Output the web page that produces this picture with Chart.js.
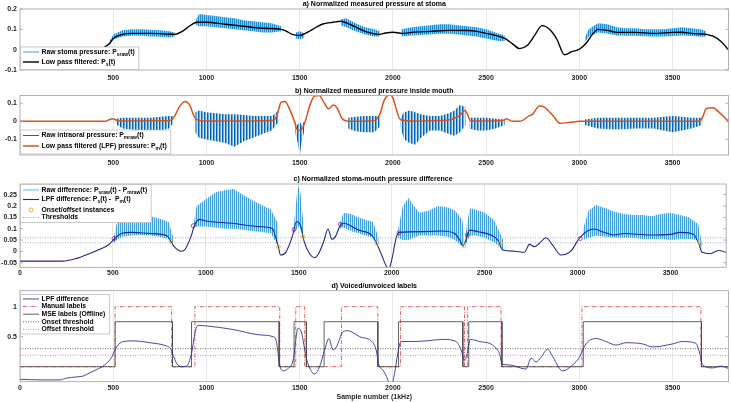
<!DOCTYPE html>
<html>
<head>
<meta charset="utf-8">
<script src="https://cdn.jsdelivr.net/npm/chart.js@4.4.1/dist/chart.umd.min.js"></script>
<style>
  body { margin: 0; background: #fff; }
  #wrap { position: relative; width: 731px; height: 402px; }
  canvas { position: absolute; left: 0; }
</style>
</head>
<body>
<div id="wrap">
  <canvas id="chartA" width="731" height="88" style="top:0px"></canvas>
  <canvas id="chartB" width="731" height="87" style="top:88px"></canvas>
  <canvas id="chartC" width="731" height="104" style="top:175px"></canvas>
  <canvas id="chartD" width="731" height="123" style="top:279px"></canvas>
</div>
<script>
const FONT = '"Liberation Sans", Arial, sans-serif';

// Tick labels
const xTicksTop = [500, 1000, 1500, 2000, 2500, 3000, 3500];
const xTicksBottom = [0, 500, 1000, 1500, 2000, 2500, 3000, 3500];
const stomaTicks = [-0.1, 0, 0.1, 0.2];
const mouthTicks = [-0.1, 0, 0.1];
const diffTicks = [-0.05, 0, 0.05, 0.1, 0.15, 0.2, 0.25];
const labelTicks = [0.5, 1];

// a) stoma pressure: low pass filtered [sample, value]
const stomaLpf = [[0,-0.045],[100,-0.045],[200,-0.045],[250,-0.044],[300,-0.035],[350,-0.025],[400,-0.01],[450,0.01],[480,0.03],[500,0.055],[550,0.075],[600,0.08],[700,0.08],[800,0.076],[830,0.075],[870,0.09],[900,0.11],[950,0.135],[1000,0.135],[1100,0.125],[1200,0.115],[1300,0.105],[1400,0.1],[1430,0.09],[1460,0.075],[1500,0.07],[1530,0.08],[1570,0.1],[1620,0.125],[1680,0.135],[1720,0.14],[1780,0.12],[1850,0.09],[1930,0.075],[1960,0.082],[2000,0.086],[2050,0.08],[2100,0.085],[2200,0.09],[2300,0.095],[2400,0.094],[2450,0.09],[2500,0.08],[2550,0.07],[2600,0.055],[2640,0.03],[2680,0.005],[2720,0.02],[2760,0.07],[2800,0.118],[2840,0.1],[2880,0.05],[2920,-0.025],[2960,-0.01],[3000,0.002],[3040,0.035],[3070,0.075],[3100,0.1],[3150,0.095],[3200,0.085],[3300,0.085],[3400,0.08],[3500,0.085],[3550,0.086],[3600,0.08],[3680,0.075],[3720,0.065],[3760,0.04],[3800,0.0]];
// raw stoma pressure envelope [sample, high, low], null = unvoiced gap
const stomaRaw = [[480,0.04,0.02],[500,0.075,0.05],[550,0.095,0.065],[600,0.1,0.068],[650,0.1,0.068],[700,0.098,0.065],[750,0.095,0.063],[800,0.09,0.06],[830,0.085,0.065],[880,null,null],
  [940,0.14,0.125],[960,0.175,0.115],[1000,0.17,0.115],[1050,0.165,0.11],[1100,0.16,0.105],[1150,0.155,0.1],[1200,0.145,0.095],[1250,0.14,0.09],[1300,0.135,0.085],[1350,0.13,0.085],[1400,0.115,0.09],[1440,null,null],
  [1480,0.085,0.055],[1500,0.09,0.05],[1525,0.08,0.06],[1600,null,null],
  [1720,0.15,0.12],[1750,0.155,0.11],[1800,0.13,0.09],[1850,0.11,0.075],[1900,0.1,0.065],[1930,0.09,0.065],[1990,null,null],
  [2045,0.1,0.065],[2100,0.11,0.07],[2150,0.115,0.072],[2200,0.12,0.075],[2250,0.125,0.078],[2300,0.125,0.078],[2350,0.12,0.075],[2400,0.115,0.07],[2450,0.11,0.065],[2500,0.1,0.055],[2550,0.085,0.045],[2600,0.07,0.04],[2800,null,null],
  [3030,0.06,0.035],[3050,0.1,0.065],[3100,0.13,0.085],[3150,0.125,0.08],[3200,0.11,0.07],[3250,0.105,0.068],[3300,0.105,0.068],[3350,0.1,0.066],[3400,0.1,0.065],[3450,0.1,0.065],[3500,0.105,0.067],[3550,0.11,0.07],[3600,0.105,0.067],[3650,0.1,0.064],[3680,0.09,0.065]];

// b) intraoral pressure
const mouthLpf = [[0,0],[300,0],[460,0],[480,0.01],[500,0.015],[520,0.005],[560,0.002],[800,0.003],[815,0.01],[830,0.03],[855,0.08],[885,0.11],[910,0.09],[935,0.025],[960,0.005],[1000,0.002],[1360,0.005],[1380,0.04],[1400,0.105],[1420,0.11],[1445,0.07],[1470,0.005],[1490,-0.05],[1510,-0.045],[1530,0.0],[1555,0.09],[1580,0.14],[1605,0.143],[1630,0.105],[1655,0.07],[1680,0.09],[1700,0.075],[1725,0.02],[1750,0.002],[1800,0.0],[1900,0.005],[1930,0.04],[1955,0.12],[1982,0.146],[2000,0.13],[2020,0.06],[2040,0.01],[2100,0.002],[2300,0.008],[2360,0.035],[2385,0.06],[2400,0.04],[2415,0.005],[2450,0.002],[2590,0.005],[2610,0.015],[2640,0.0],[2680,0.0],[2730,0.03],[2750,0.04],[2785,0.085],[2810,0.08],[2860,0.03],[2895,-0.01],[2950,-0.005],[3000,0.0],[3640,0.0],[3660,0.02],[3680,0.07],[3715,0.075],[3750,0.05],[3800,0.0]];
const mouthRaw = [[520,0.015,-0.02],[550,0.02,-0.04],[600,0.02,-0.045],[650,0.02,-0.05],[700,0.02,-0.05],[750,0.025,-0.05],[800,0.03,-0.04],[820,0.03,-0.01],[880,null,null],
  [940,0.05,-0.06],[960,0.06,-0.09],[1000,0.05,-0.1],[1050,0.045,-0.11],[1100,0.04,-0.12],[1150,0.04,-0.14],[1200,0.035,-0.11],[1250,0.03,-0.09],[1300,0.03,-0.07],[1350,0.03,-0.05],[1390,0.06,0.0],[1440,null,null],
  [1475,0.0,-0.06],[1490,-0.02,-0.12],[1500,0.0,-0.19],[1510,-0.02,-0.12],[1525,0.0,-0.05],[1600,null,null],
  [1760,0.02,-0.04],[1800,0.025,-0.055],[1850,0.03,-0.06],[1900,0.03,-0.06],[1930,0.03,-0.03],[1990,null,null],
  [2040,0.02,-0.03],[2060,0.05,-0.1],[2090,0.06,-0.12],[2120,0.05,-0.13],[2150,0.04,-0.09],[2200,0.03,-0.05],[2250,0.03,-0.05],[2300,0.045,-0.07],[2330,0.06,-0.08],[2360,0.09,-0.06],[2390,0.08,-0.02],[2400,null,null],
  [2410,0.02,-0.04],[2450,0.02,-0.05],[2500,0.02,-0.05],[2550,0.015,-0.04],[2600,0.01,-0.02],[2800,null,null],
  [3030,0.01,-0.02],[3100,0.02,-0.04],[3200,0.02,-0.045],[3300,0.02,-0.04],[3400,0.02,-0.04],[3450,0.025,-0.05],[3500,0.03,-0.06],[3550,0.025,-0.05],[3600,0.02,-0.04],[3660,0.02,-0.02]];

// c) stoma-mouth difference
const diffLpf = [[0,-0.043],[230,-0.043],[300,-0.032],[375,-0.009],[430,0.01],[475,0.028],[510,0.057],[545,0.079],[600,0.084],[700,0.079],[790,0.069],[813,0.043],[830,0.021],[866,0.001],[885,0.006],[920,0.065],[938,0.113],[964,0.141],[1000,0.134],[1140,0.124],[1290,0.109],[1357,0.101],[1375,0.065],[1390,0.021],[1402,-0.016],[1430,-0.004],[1465,0.065],[1488,0.131],[1509,0.116],[1527,0.05],[1563,-0.016],[1586,-0.028],[1607,-0.009],[1634,0.043],[1657,0.099],[1679,0.053],[1697,0.065],[1724,0.116],[1741,0.124],[1822,0.094],[1892,0.072],[1919,0.035],[1946,-0.016],[1973,-0.068],[1985,-0.075],[2000,-0.038],[2026,0.065],[2044,0.084],[2178,0.087],[2268,0.09],[2339,0.079],[2366,0.05],[2384,0.025],[2396,0.043],[2419,0.094],[2464,0.087],[2535,0.072],[2571,0.05],[2598,0.006],[2660,0.001],[2714,-0.004],[2741,0.031],[2768,0.021],[2794,0.035],[2830,0.06],[2866,0.028],[2910,-0.016],[2964,0.001],[3009,0.057],[3053,0.09],[3089,0.099],[3143,0.084],[3196,0.072],[3250,0.079],[3393,0.072],[3500,0.075],[3553,0.084],[3625,0.075],[3652,0.035],[3670,-0.004],[3714,-0.01],[3759,0.004],[3800,-0.004]];
const diffRaw = [[500,0.04,0.03],[520,0.12,0.05],[550,0.16,0.065],[600,0.165,0.07],[650,0.16,0.072],[700,0.155,0.07],[750,0.145,0.065],[800,0.13,0.055],[825,0.06,0.035],[880,null,null],
  [935,0.12,0.1],[950,0.2,0.11],[1000,0.23,0.11],[1050,0.26,0.105],[1100,0.27,0.1],[1150,0.275,0.1],[1200,0.25,0.095],[1250,0.225,0.09],[1300,0.205,0.085],[1350,0.185,0.08],[1390,0.12,0.02],[1440,null,null],
  [1475,0.13,0.08],[1490,0.25,0.1],[1500,0.29,0.11],[1510,0.25,0.1],[1525,0.12,0.05],[1600,null,null],
  [1720,0.12,0.1],[1740,0.17,0.105],[1780,0.165,0.09],[1820,0.15,0.08],[1860,0.14,0.07],[1900,0.13,0.06],[1930,0.06,0.03],[1990,null,null],
  [2035,0.1,0.06],[2060,0.2,0.05],[2090,0.235,0.05],[2120,0.2,0.06],[2150,0.17,0.07],[2200,0.18,0.07],[2250,0.2,0.07],[2300,0.195,0.065],[2340,0.18,0.05],[2380,0.14,0.02],[2390,0.05,0.01],[2395,null,null],
  [2400,0.09,0.03],[2420,0.19,0.07],[2450,0.185,0.07],[2500,0.17,0.06],[2550,0.14,0.04],[2600,0.05,0.01],[2800,null,null],
  [3030,0.1,0.05],[3060,0.18,0.06],[3100,0.205,0.07],[3150,0.19,0.065],[3200,0.175,0.06],[3250,0.165,0.06],[3300,0.16,0.06],[3350,0.16,0.055],[3400,0.155,0.055],[3450,0.165,0.055],[3500,0.17,0.05],[3550,0.16,0.055],[3600,0.15,0.055],[3650,0.12,0.05],[3670,0.03,0.0]];
const onsetPoints = [[506,0.057],[932,0.113],[1474,0.097],[1724,0.119],[2039,0.082],[2407,0.072],[3014,0.057]];
const offsetPoints = [[813,0.043],[1390,0.021],[1522,0.065],[1919,0.035],[2389,0.025],[2585,0.038],[3660,0.035]];
const diffThresholds = [0.06, 0.038];

// d) voiced/unvoiced labels
const labelLpf = [[0,-0.21],[107,-0.22],[214,-0.22],[250,-0.19],[304,-0.17],[340,-0.155],[375,-0.1],[429,-0.02],[464,0.055],[491,0.155],[518,0.33],[554,0.42],[607,0.43],[697,0.4],[786,0.345],[807,0.305],[822,0.19],[840,0.055],[866,0],[893,0.01],[920,0.22],[938,0.555],[955,0.69],[1000,0.68],[1143,0.62],[1286,0.53],[1357,0.5],[1375,0.42],[1393,0.03],[1411,-0.07],[1438,-0.03],[1465,0.11],[1491,0.64],[1509,0.58],[1536,0.14],[1563,-0.08],[1581,-0.12],[1607,0],[1634,0.28],[1657,0.47],[1679,0.28],[1697,0.33],[1732,0.58],[1759,0.6],[1822,0.5],[1893,0.4],[1910,0.28],[1925,0.03],[1946,-0.055],[1973,-0.22],[1985,-0.37],[2009,-0.11],[2026,0.22],[2044,0.42],[2107,0.42],[2178,0.43],[2268,0.455],[2339,0.42],[2366,0.28],[2384,0.11],[2396,0.19],[2416,0.455],[2464,0.42],[2535,0.36],[2571,0.22],[2589,0.04],[2625,0.03],[2714,-0.04],[2741,0.14],[2768,0.08],[2794,0.155],[2830,0.29],[2857,0.17],[2893,-0.03],[2910,-0.07],[2964,0.03],[3000,0.155],[3035,0.38],[3089,0.47],[3143,0.42],[3196,0.36],[3250,0.4],[3339,0.38],[3393,0.33],[3500,0.38],[3553,0.42],[3625,0.39],[3646,0.22],[3661,0.03],[3714,-0.02],[3759,0.01],[3800,-0.03]];
const manualOn = [510, 938, 1479, 1724, 2041, 2401, 3014];
const manualOff = [813, 1393, 1527, 1919, 2384, 2580, 3652];
const mseOn = [510, 920, 1470, 1631, 2030, 2407, 3021];
const mseOff = [818, 1390, 1536, 1919, 2375, 2585, 3655];
const manualLevel = 1;
const mseLevel = 0.75;
const onsetThreshold = 0.30;
const offsetThreshold = 0.19;

// helpers
const pts = arr => arr.map(([x, y]) => ({ x, y }));
const hiPts = arr => arr.map(([x, h]) => ({ x, y: h }));
const loPts = arr => arr.map(([x, , l]) => ({ x, y: l }));
const hline = v => [{ x: 0, y: v }, { x: 3800, y: v }];
function steps(on, off, level) {
  const p = [{ x: 0, y: 0 }];
  on.forEach((s, i) => {
    p.push({ x: s, y: 0 }, { x: s, y: level }, { x: off[i], y: level }, { x: off[i], y: 0 });
  });
  p.push({ x: 3800, y: 0 });
  return p;
}
function stripes(colors) {
  const cv = document.createElement('canvas');
  cv.width = colors.length; cv.height = 1;
  const g = cv.getContext('2d');
  colors.forEach((c, i) => { g.fillStyle = c; g.fillRect(i, 0, 1, 1); });
  return g.createPattern(cv, 'repeat');
}

// plugins: frame, title, legend box
const frame = {
  id: 'frame',
  afterDatasetsDraw(chart) {
    const { ctx, chartArea: a } = chart;
    const ys = chart.scales.y;
    ctx.save();
    ctx.strokeStyle = '#a0a0a0';
    ctx.lineWidth = 0.8;
    ctx.strokeRect(a.left, a.top, a.right - a.left, a.bottom - a.top);
    ys.ticks.forEach(t => {
      const y = ys.getPixelForValue(t.value);
      ctx.beginPath();
      ctx.moveTo(a.left, y); ctx.lineTo(a.left + 3, y);
      ctx.moveTo(a.right - 3, y); ctx.lineTo(a.right, y);
      ctx.stroke();
    });
    ctx.restore();
  }
};

const panelTitle = {
  id: 'panelTitle',
  afterDraw(chart, args, o) {
    const { ctx, chartArea: a } = chart;
    ctx.save();
    ctx.font = 'bold 7px ' + FONT;
    ctx.fillStyle = '#000';
    ctx.textAlign = 'center';
    ctx.textBaseline = 'middle';
    ctx.fillText(o.text, (a.left + a.right) / 2, a.top - 4.5);
    ctx.restore();
  }
};

function richWidth(ctx, parts) {
  let w = 0;
  parts.forEach(p => {
    ctx.font = (typeof p === 'string' ? 'bold 6.8px ' : 'bold 5px ') + FONT;
    w += ctx.measureText(typeof p === 'string' ? p : p.sub).width;
  });
  return w;
}
function drawRich(ctx, parts, x, y) {
  parts.forEach(p => {
    if (typeof p === 'string') {
      ctx.font = 'bold 6.8px ' + FONT;
      ctx.fillText(p, x, y);
      x += ctx.measureText(p).width;
    } else {
      ctx.font = 'bold 5px ' + FONT;
      ctx.fillText(p.sub, x, y + 2.2);
      x += ctx.measureText(p.sub).width;
    }
  });
}

const boxLegend = {
  id: 'boxLegend',
  afterDraw(chart, args, o) {
    if (!o.items) return;
    const { ctx, chartArea: a } = chart;
    ctx.save();
    let maxW = 0;
    o.items.forEach(it => { maxW = Math.max(maxW, richWidth(ctx, it.text)); });
    const x0 = a.left + 0.5;
    const w = 21 + maxW + 4;
    ctx.fillStyle = '#fff';
    ctx.fillRect(x0, o.top, w, o.height);
    ctx.strokeStyle = '#b4b4b4';
    ctx.lineWidth = 0.7;
    ctx.strokeRect(x0, o.top, w, o.height);
    o.items.forEach(it => {
      const s = it.sample;
      if (s.marker) {
        ctx.beginPath();
        ctx.strokeStyle = s.color;
        ctx.lineWidth = 0.9;
        ctx.arc(x0 + 10.5, it.y, 2, 0, Math.PI * 2);
        ctx.stroke();
      } else {
        ctx.beginPath();
        ctx.strokeStyle = s.color;
        ctx.lineWidth = s.width;
        ctx.setLineDash(s.dash || []);
        ctx.moveTo(x0 + 2.5, it.y);
        ctx.lineTo(x0 + 18.5, it.y);
        ctx.stroke();
        ctx.setLineDash([]);
      }
      ctx.fillStyle = '#000';
      ctx.textAlign = 'left';
      ctx.textBaseline = 'middle';
      drawRich(ctx, it.text, x0 + 21, it.y);
    });
    ctx.restore();
  }
};

const tickFont = { family: FONT, size: 7, weight: 'bold' };
const fmt = v => String(Math.round(v * 1000) / 1000);

function axisX(ticks, pad, h, title) {
  return {
    type: 'linear', min: 0, max: 3800,
    grid: { color: '#e2e2e2', lineWidth: 0.8, drawTicks: false },
    border: { display: false },
    ticks: { font: tickFont, color: '#262626', padding: pad, maxRotation: 0, autoSkip: false, callback: fmt },
    afterBuildTicks: ax => { ax.ticks = ticks.map(v => ({ value: v })); },
    afterFit: ax => { ax.height = h; },
    title: title ? { display: true, text: title, font: tickFont, color: '#262626', padding: { top: 0, bottom: 1 } } : { display: false }
  };
}
function axisY(min, max, ticks) {
  return {
    min, max,
    grid: { display: false, drawTicks: false },
    border: { display: false },
    ticks: { font: tickFont, color: '#262626', padding: 3, callback: fmt },
    afterBuildTicks: ax => { ax.ticks = ticks.map(v => ({ value: v })); },
    afterFit: ax => { ax.width = 20; }
  };
}
function baseOptions(padTop, x, y, title, legend) {
  return {
    responsive: false,
    animation: false,
    layout: { padding: { top: padTop, right: 2.5, left: 0, bottom: 0 } },
    scales: { x, y },
    elements: { point: { radius: 0 } },
    plugins: {
      legend: { display: false },
      tooltip: { enabled: false },
      panelTitle: { text: title },
      boxLegend: legend
    }
  };
}
const line = (data, color, width, extra) => Object.assign({
  type: 'line', data, borderColor: color, borderWidth: width, pointRadius: 0,
  fill: false, spanGaps: false, tension: 0
}, extra || {});
const smooth = { cubicInterpolationMode: 'monotone' };
const plugins = [frame, boxLegend, panelTitle];

// a) stoma
new Chart(document.getElementById('chartA'), {
  type: 'line',
  data: { datasets: [
    line(pts(stomaLpf), '#000', 1.4, Object.assign({ order: 0 }, smooth)),
    line(hiPts(stomaRaw), 'rgba(0,0,0,0)', 0, { order: 1, fill: '+1',
      backgroundColor: stripes(['rgb(30,140,212)', 'rgb(145,200,238)']) }),
    line(loPts(stomaRaw), 'rgba(0,0,0,0)', 0, { order: 1 })
  ] },
  options: baseOptions(9, axisX(xTicksTop, 3.5, 18), axisY(-0.1, 0.2, stomaTicks),
    'a) Normalized measured pressure at stoma',
    { top: 47, height: 22.5, items: [
      { y: 52, sample: { color: 'rgb(70,160,220)', width: 1 }, text: ['Raw stoma pressure: P', { sub: 'sraw' }, '(t)'] },
      { y: 62, sample: { color: '#000', width: 1.4 }, text: ['Low pass filtered: P', { sub: 's' }, '(t)'] }
    ] }),
  plugins
});

// b) mouth
new Chart(document.getElementById('chartB'), {
  type: 'line',
  data: { datasets: [
    line(pts(mouthLpf), 'rgb(217,83,25)', 1.5, Object.assign({ order: 0 }, smooth)),
    line(hiPts(mouthRaw), 'rgba(0,0,0,0)', 0, { order: 1, fill: '+1',
      backgroundColor: stripes(['rgb(0,100,182)', 'rgb(110,170,220)', 'rgb(215,230,245)']) }),
    line(loPts(mouthRaw), 'rgba(0,0,0,0)', 0, { order: 1 })
  ] },
  options: baseOptions(7.5, axisX(xTicksTop, 4, 20), axisY(-0.186, 0.143, mouthTicks),
    'b) Normalized measured pressure inside mouth',
    { top: 42, height: 24, items: [
      { y: 47.5, sample: { color: 'rgb(0,114,189)', width: 1 }, text: ['Raw intraoral pressure: P', { sub: 'mraw' }, '(t)'] },
      { y: 58, sample: { color: 'rgb(217,83,25)', width: 1.5 }, text: ['Low pass filtered (LPF) pressure: P', { sub: 'm' }, '(t)'] }
    ] }),
  plugins
});

// c) difference
new Chart(document.getElementById('chartC'), {
  type: 'line',
  data: { datasets: [
    line(pts(diffLpf), 'rgb(30,40,130)', 1.1, Object.assign({ order: 0 }, smooth)),
    line(pts(onsetPoints), 'rgb(126,47,142)', 0, { order: -1, showLine: false, pointRadius: 2,
      pointBorderColor: 'rgb(126,47,142)', pointBackgroundColor: 'rgba(0,0,0,0)', pointBorderWidth: 0.8 }),
    line(pts(offsetPoints), 'rgb(237,177,32)', 0, { order: -1, showLine: false, pointRadius: 2,
      pointBorderColor: 'rgb(237,177,32)', pointBackgroundColor: 'rgba(0,0,0,0)', pointBorderWidth: 0.8 }),
    line(hline(diffThresholds[0]), 'rgb(130,155,185)', 0.8, { order: 2, borderDash: [1, 1.5] }),
    line(hline(diffThresholds[1]), 'rgb(130,155,185)', 0.8, { order: 2, borderDash: [1, 1.5] }),
    line(hiPts(diffRaw), 'rgba(0,0,0,0)', 0, { order: 1, fill: '+1',
      backgroundColor: stripes(['rgb(65,158,220)', 'rgb(205,230,247)']) }),
    line(loPts(diffRaw), 'rgba(0,0,0,0)', 0, { order: 1 })
  ] },
  options: baseOptions(9, axisX(xTicksBottom, 1.8, 11.7), axisY(-0.07, 0.297, diffTicks),
    'c) Normalized stoma-mouth pressure difference',
    { top: 9.5, height: 38, items: [
      { y: 15, sample: { color: 'rgb(110,180,230)', width: 1 }, text: ['Raw difference: P', { sub: 'sraw' }, '(t) - P', { sub: 'mraw' }, '(t)'] },
      { y: 24.5, sample: { color: 'rgb(30,40,130)', width: 1.1 }, text: ['LPF difference: P', { sub: 's' }, '(t) -  P', { sub: 'm' }, '(t)'] },
      { y: 35, sample: { marker: true, color: 'rgb(237,177,32)' }, text: ['Onset/offset instances'] },
      { y: 42.5, sample: { color: 'rgb(130,155,185)', width: 0.8, dash: [1, 1.5] }, text: ['Thresholds'] }
    ] }),
  plugins
});

// d) labels
new Chart(document.getElementById('chartD'), {
  type: 'line',
  data: { datasets: [
    line(pts(labelLpf), 'rgb(45,55,145)', 0.9, Object.assign({ order: 0 }, smooth)),
    line(steps(mseOn, mseOff, mseLevel), 'rgb(80,80,80)', 0.9, { order: 1 }),
    line(steps(manualOn, manualOff, manualLevel), 'rgb(215,60,60)', 0.8, { order: 2, borderDash: [4, 1.5, 1, 1.5] }),
    line(hline(onsetThreshold), 'rgb(60,60,60)', 0.8, { order: 3, borderDash: [1, 1.5] }),
    line(hline(offsetThreshold), 'rgb(235,80,235)', 0.8, { order: 3, borderDash: [1, 1.5] })
  ] },
  options: baseOptions(11.7, axisX(xTicksBottom, 1.8, 20.3, 'Sample number (1kHz)'), axisY(-0.25, 1.267, labelTicks),
    'd) Voiced/unvoiced labels',
    { top: 15.5, height: 39.5, items: [
      { y: 20, sample: { color: 'rgb(45,55,145)', width: 0.9 }, text: ['LPF difference'] },
      { y: 27.6, sample: { color: 'rgb(215,60,60)', width: 0.8, dash: [4, 1.5, 1, 1.5] }, text: ['Manual labels'] },
      { y: 35.2, sample: { color: 'rgb(80,80,80)', width: 0.9 }, text: ['MSE labels (Offline)'] },
      { y: 42.8, sample: { color: 'rgb(60,60,60)', width: 0.8, dash: [1, 1.5] }, text: ['Onset threshold'] },
      { y: 50.4, sample: { color: 'rgb(235,80,235)', width: 0.8, dash: [1, 1.5] }, text: ['Offset threshold'] }
    ] }),
  plugins
});
</script>
</body>
</html>
